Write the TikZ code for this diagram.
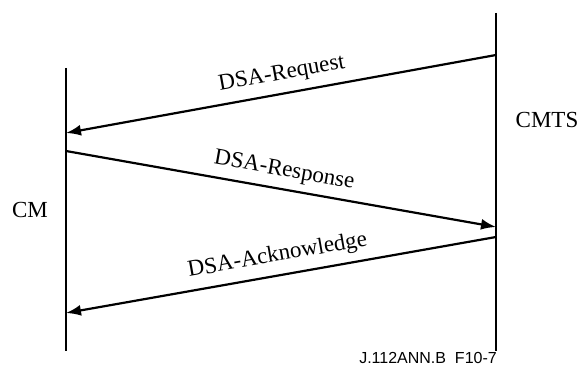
\documentclass[tikz,border=0pt]{standalone}
\usepackage{fontspec}
\setmainfont{Liberation Serif}
\newfontfamily\footfont{Liberation Sans}
\usetikzlibrary{arrows.meta}
\begin{document}
\begin{tikzpicture}[x=1pt,y=-1pt,
  lifeline/.style={line width=2.6pt},
  msg/.style={line width=2.2pt,-{Latex[length=15pt,width=11pt]}},
  msglabel/.style={font=\fontsize{23}{25}\selectfont,sloped,inner sep=0pt,text depth=0pt,anchor=south},
  party/.style={font=\fontsize{23}{25}\selectfont,inner sep=0pt},
  foot/.style={font=\footfont\fontsize{16}{18}\selectfont,inner sep=0pt}]
\useasboundingbox (0,0) rectangle (580,374);
% lifelines
\coordinate (cmtop) at (66,68);
\coordinate (cmbot) at (66,351);
\coordinate (cmtstop) at (496,13);
\coordinate (cmtsbot) at (496,351);
\draw[lifeline] (cmtop) -- (cmbot);
\draw[lifeline] (cmtstop) -- (cmtsbot);
% message end points
\coordinate (reqs) at (496,55);
\coordinate (reqe) at (66,133);
\coordinate (ress) at (66,151);
\coordinate (rese) at (496,227);
\coordinate (acks) at (496,237);
\coordinate (acke) at (66,313);
\draw[msg] (reqs) -- node[msglabel,pos=0.49,yshift=13pt] (lreq) {DSA-Request} (reqe);
\draw[msg] (ress) -- node[msglabel,pos=0.5,yshift=12pt] (lres) {DSA-Response} (rese);
\draw[msg] (acks) -- node[msglabel,pos=0.5,yshift=13pt] (lack) {DSA-Acknowledge} (acke);
% parties
\node[party] (cm) at (30,210) {CM};
\node[party] (cmts) at (547,120) {CMTS};
\node[foot,anchor=east] (fig) at (497,358) {J.112ANN.B\ \ F10-7};
\end{tikzpicture}
\end{document}
